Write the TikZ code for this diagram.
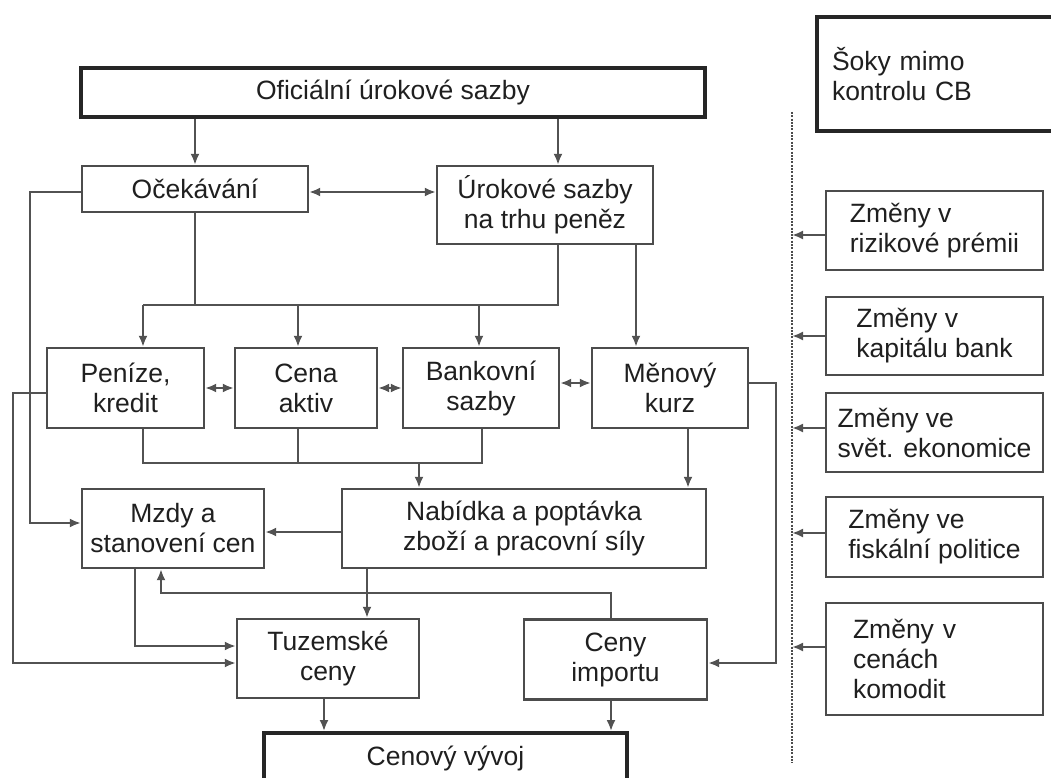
\documentclass[tikz,border=0pt]{standalone}
\usepackage{fontspec}
\setmainfont{Liberation Sans}
\usepackage{tikz}
\usetikzlibrary{arrows.meta}

\begin{document}
\begin{tikzpicture}[x=1pt,y=-1pt,font=\fontsize{26.5}{30}\selectfont,
  mainbox/.style={draw=black!70,line width=2.3pt,align=center,inner sep=0pt,text=black!88},
  thickbox/.style={mainbox,draw=black!85,line width=3.8pt},
  shockbox/.style={mainbox,align=left,minimum width=217},
  conn/.style={black!68,line width=2.4pt},
  arr/.style={conn,-{Latex[length=11pt,width=9pt]}},
  darr/.style={conn,{Latex[length=11pt,width=9pt]}-{Latex[length=11pt,width=9pt]}}]
\useasboundingbox (0,0) rectangle (1051,778);
\node[thickbox,minimum width=624,minimum height=49] (ofic) at (393,92.5) {Oficiální úrokové sazby};
\node[mainbox,minimum width=226,minimum height=46] (ocek) at (195,189) {Očekávání};
\node[mainbox,minimum width=216,minimum height=78] (urok) at (545,205) {Úrokové sazby\\na trhu peněz};
\node[mainbox,minimum width=157,minimum height=80] (penize) at (125.5,388) {Peníze,\\kredit};
\node[mainbox,minimum width=142,minimum height=80] (cena) at (306,388) {Cena\\aktiv};
\node[mainbox,minimum width=156,minimum height=80] (bank) at (481,388) {Bankovní\\sazby};
\node[mainbox,minimum width=156,minimum height=80] (menovy) at (670,388) {Měnový\\kurz};
\node[mainbox,minimum width=182,minimum height=79] (mzdy) at (173,528.5) {Mzdy a\\stanovení cen};
\node[mainbox,minimum width=364,minimum height=79] (nabidka) at (524,528.5) {Nabídka a poptávka\\zboží a pracovní síly};
\node[mainbox,minimum width=182,minimum height=79] (tuzem) at (328,658.5) {Tuzemské\\ceny};
\node[mainbox,minimum width=183,minimum height=80] (import) at (615.5,659.5) {Ceny\\importu};
\node[thickbox,minimum width=363,minimum height=50] (cenovy) at (445.5,758) {Cenový vývoj};
\node[thickbox,align=left,text width=206,minimum width=236,minimum height=114] (soky) at (935,74) {Šoky mimo\\kontrolu CB};
\node[shockbox,minimum height=79] (riz) at (934.5,230.5) {Změny v\\rizikové prémii};
\node[shockbox,minimum height=78] (kap) at (934.5,336) {Změny v\\kapitálu bank};
\node[shockbox,minimum height=79] (svet) at (934.5,432.5) {Změny ve\\svět. ekonomice};
\node[shockbox,minimum height=80] (fisk) at (934.5,537) {Změny ve\\fiskální politice};
\node[shockbox,text width=163,minimum height=112] (komod) at (934.5,659) {Změny v\\cenách\\komodit};
\coordinate (dtop) at (792,112);
\coordinate (dbot) at (792,763);
\coordinate (bus1) at (0,305);
\coordinate (bus2) at (0,463);
\coordinate (bus3) at (0,593);
\coordinate (lft1) at (30,0);
\coordinate (lft2) at (13,0);
\coordinate (rgt) at (776,0);
\draw[black!70,line width=2.4pt,dash pattern=on 2pt off 1.3pt] (dtop) -- (dbot);
\draw[arr] (ofic.south -| ocek.north) -- (ocek.north);
\draw[arr] ([xshift=13pt]urok.north |- ofic.south) -- ([xshift=13pt]urok.north);
\draw[darr] ([yshift=-3pt]ocek.east) -- ([yshift=-3pt]ocek.east -| urok.west);
\draw[conn] (ocek.south) -- (ocek.south |- bus1);
\draw[conn] ([xshift=13pt]urok.south) -- ([xshift=13pt]urok.south |- bus1) -- ([xshift=17.5pt]penize.north |- bus1);
\draw[arr] ([xshift=17.5pt]penize.north |- bus1) -- ([xshift=17.5pt]penize.north);
\draw[arr] ([xshift=-8pt]cena.north |- bus1) -- ([xshift=-8pt]cena.north);
\draw[arr] ([xshift=-2pt]bank.north |- bus1) -- ([xshift=-2pt]bank.north);
\draw[arr] ([xshift=-34pt]menovy.north |- urok.south) -- ([xshift=-34pt]menovy.north);
\draw[darr] (penize.east) -- (cena.west);
\draw[darr] (cena.east) -- (bank.west);
\draw[darr] ([yshift=5pt]bank.east) -- ([yshift=5pt]menovy.west);
\draw[conn] ([xshift=17.5pt]penize.south) |- ([xshift=1pt]bank.south |- bus2) -- ([xshift=1pt]bank.south);
\draw[conn] ([xshift=-8pt]cena.south) -- ([xshift=-8pt]cena.south |- bus2);
\draw[arr] ([xshift=-105pt]nabidka.north |- bus2) -- ([xshift=-105pt]nabidka.north);
\draw[arr] ([xshift=18pt]menovy.south) -- ([xshift=18pt]menovy.south |- nabidka.north);
\draw[arr] ([yshift=-3.5pt]nabidka.west) -- ([yshift=-3.5pt]nabidka.west -| mzdy.east);
\draw[arr] ([yshift=-3pt]ocek.west) -- ([yshift=-3pt]ocek.west -| lft1) |- ([yshift=5.5pt]mzdy.west);
\draw[arr] ([yshift=-5pt]penize.west) -- ([yshift=-5pt]penize.west -| lft2) |- ([yshift=-4.5pt]tuzem.west);
\draw[arr] ([xshift=-38pt]mzdy.south) |- ([yshift=12.5pt]tuzem.west);
\draw[arr] ([xshift=-4.5pt]import.north) |- ([xshift=-12pt]mzdy.south |- bus3) -- ([xshift=-12pt]mzdy.south);
\draw[arr] ([xshift=39pt]tuzem.north |- nabidka.south) -- ([xshift=39pt]tuzem.north);
\draw[arr] ([yshift=5pt]menovy.east) -- ([yshift=5pt]menovy.east -| rgt) |- ([yshift=-3.5pt]import.east);
\draw[arr] ([xshift=-4pt]tuzem.south) -- ([xshift=-4pt]tuzem.south |- cenovy.north);
\draw[arr] ([xshift=-4.5pt]import.south) -- ([xshift=-4.5pt]import.south |- cenovy.north);
\draw[arr] ([yshift=-4.5pt]riz.west) -- ([yshift=-4.5pt]riz.west -| dtop);
\draw[arr] (kap.west) -- (kap.west -| dtop);
\draw[arr] ([yshift=4.5pt]svet.west) -- ([yshift=4.5pt]svet.west -| dtop);
\draw[arr] ([yshift=4pt]fisk.west) -- ([yshift=4pt]fisk.west -| dtop);
\draw[arr] ([yshift=12pt]komod.west) -- ([yshift=12pt]komod.west -| dtop);
\end{tikzpicture}
\end{document}
